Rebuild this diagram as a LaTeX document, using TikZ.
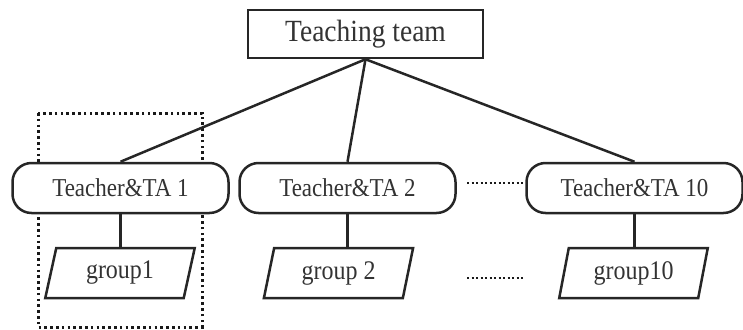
\documentclass[tikz,border=0pt]{standalone}
\usepackage{fontspec}
\setmainfont{Liberation Serif}
\usetikzlibrary{shapes.geometric}
\begin{document}
\begin{tikzpicture}[x=1pt,y=-1pt,
  ln/.style={draw=black!85,line width=2.5pt},
  dotln/.style={draw=black!90,line width=3pt,dash pattern=on 2.6pt off 3.2pt},
  topbox/.style={ln,fill=white,rectangle,minimum width=235pt,minimum height=48pt,inner sep=0pt,font=\fontsize{27.5}{30}\selectfont,text=black!80},
  tabox/.style={ln,fill=white,rectangle,rounded corners=19pt,minimum width=216pt,minimum height=50pt,inner sep=0pt,font=\fontsize{23}{26}\selectfont,text=black!80},
  grpbox/.style={ln,fill=white,trapezium,trapezium left angle=76,trapezium right angle=104,trapezium stretches=true,minimum width=150pt,minimum height=50pt,inner sep=0pt,font=\fontsize{24}{27}\selectfont,text=black!80}]
\useasboundingbox (0,0) rectangle (743,329);
% dotted frame around first team
\draw[dotln] (38,113) rectangle (202,327);
\node[topbox] (top) at (365.5,34) {\scalebox{1}[1.12]{Teaching team}};
\node[tabox] (ta1) at (120.5,188) {\scalebox{1}[1.12]{Teacher\&TA 1}};
\node[tabox] (ta2) at (347.5,188) {\scalebox{1}[1.12]{Teacher\&TA 2}};
\node[tabox] (ta10) at (634.5,188) {\scalebox{1}[1.12]{Teacher\&TA 10}};
\node[grpbox] (g1) at (120,273) {\scalebox{1}[1.12]{group1}};
\node[grpbox] (g2) at (338.5,273) {\scalebox{1}[1.12]{group 2}};
\node[grpbox] (g10) at (633.5,273) {\scalebox{1}[1.12]{group10}};
\draw[ln] (top.south) -- (ta1.north);
\draw[ln] (top.south) -- (ta2.north);
\draw[ln] (top.south) -- (ta10.north);
\draw[ln] (ta1.south) -- (g1.north -| ta1.south);
\draw[ln] (ta2.south) -- (g2.north -| ta2.south);
\draw[ln] (ta10.south) -- (g10.north -| ta10.south);
\coordinate (d1a) at (467,183);
\coordinate (d1b) at (523,183);
\coordinate (d2a) at (467,278);
\coordinate (d2b) at (523,278);
\draw[dotln,line width=2.2pt,dash pattern=on 2pt off 2.5pt] (d1a) -- (d1b);
\draw[dotln,line width=2.2pt,dash pattern=on 2pt off 2.5pt] (d2a) -- (d2b);
\end{tikzpicture}
\end{document}
